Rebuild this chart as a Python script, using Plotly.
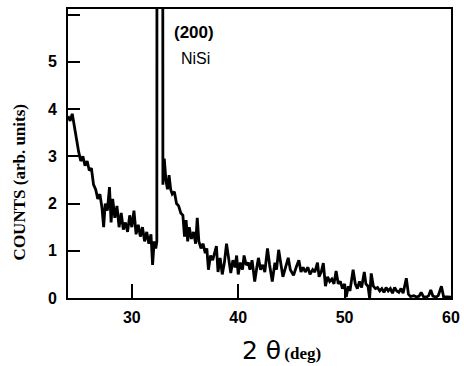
import plotly.graph_objects as go

# 2-theta (deg)
two_theta = [24.0, 24.2, 24.4, 24.6, 24.8, 25.0, 25.2, 25.4, 25.6, 25.8, 26.0, 26.2, 26.4, 26.6, 26.8,
             27.0, 27.2, 27.35, 27.5, 27.7, 27.9, 28.05, 28.2, 28.4, 28.6, 28.8, 29.0, 29.2, 29.4, 29.6,
             29.8, 30.0, 30.2, 30.4, 30.6, 30.8, 31.0, 31.2, 31.4, 31.6, 31.8, 31.95, 32.1, 32.25, 32.35,
             32.4, 32.85, 32.92, 33.05, 33.2, 33.35, 33.5, 33.65, 33.8, 34.0, 34.2, 34.4, 34.6, 34.8,
             34.95, 35.1, 35.25, 35.4, 35.6, 35.8, 36.0, 36.15, 36.3, 36.5, 36.7, 36.9, 37.05, 37.2, 37.4,
             37.6, 37.8, 37.95, 38.1, 38.3, 38.5, 38.7, 38.9, 39.1, 39.3, 39.5, 39.7, 39.85, 40.0, 40.2,
             40.4, 40.55, 40.75, 40.95, 41.1, 41.3, 41.55, 41.75, 41.9, 42.1, 42.3, 42.5, 42.75, 42.95,
             43.2, 43.45, 43.6, 43.8, 44.0, 44.2, 44.45, 44.7, 44.9, 45.2, 45.45, 45.7, 45.9, 46.1, 46.3,
             46.55, 46.75, 47.0, 47.2, 47.45, 47.6, 47.8, 48.0, 48.2, 48.4, 48.6, 48.8, 49.0, 49.2, 49.4,
             49.6, 49.8, 50.0, 50.15, 50.35, 50.5, 50.8, 51.0, 51.2, 51.4, 51.6, 51.85, 52.0, 52.2, 52.35,
             52.5, 52.7, 52.9, 53.1, 53.3, 53.5, 53.7, 53.9, 54.1, 54.3, 54.5, 54.7, 54.9, 55.1, 55.3,
             55.5, 55.8, 56.0, 56.2, 56.5, 56.8, 57.0, 57.2, 57.4, 57.7, 57.9, 58.1, 58.3, 58.6, 58.8,
             59.1, 59.3, 59.6, 60.0]

# counts (arb. units)
counts = [3.85, 3.75, 3.9, 3.6, 3.3, 3.1, 2.9, 3.0, 2.8, 2.9, 2.7, 2.75, 2.4, 2.3, 2.1,
          2.2, 1.9, 1.5, 2.0, 1.85, 2.35, 1.6, 2.1, 1.7, 1.95, 1.5, 1.8, 1.45, 1.6, 1.4,
          1.75, 1.5, 1.85, 1.35, 1.55, 1.3, 1.5, 1.2, 1.4, 1.15, 1.35, 0.7, 1.2, 1.05, 1.2,
          30.0, 30.0, 2.4, 2.95, 2.5, 2.3, 2.6, 2.3, 2.2, 2.25, 2.0, 1.95, 1.8, 1.75,
          1.3, 1.65, 1.2, 1.5, 1.25, 1.4, 1.15, 1.7, 1.2, 1.05, 1.15, 0.95, 1.05, 0.6, 0.9,
          0.8, 0.95, 1.1, 0.55, 0.85, 0.5, 0.75, 1.15, 0.8, 0.53, 0.8, 0.65, 0.9, 0.5, 0.75,
          0.6, 0.9, 0.7, 0.75, 0.6, 0.8, 0.35, 0.65, 0.85, 0.6, 0.7, 0.55, 1.05, 0.7,
          0.35, 0.75, 0.6, 1.02, 0.7, 0.45, 0.65, 0.85, 0.6, 0.48, 0.65, 0.8, 0.55, 0.65, 0.55,
          0.65, 0.5, 0.6, 0.55, 0.75, 0.45, 0.55, 0.74, 0.25, 0.45, 0.35, 0.4, 0.3, 0.57, 0.3,
          0.35, 0.2, 0.3, 0.02, 0.25, 0.15, 0.6, 0.3, 0.2, 0.35, 0.22, 0.55, 0.3, 0.25, 0.0,
          0.52, 0.25, 0.2, 0.22, 0.15, 0.2, 0.12, 0.22, 0.15, 0.2, 0.1, 0.22, 0.15, 0.12, 0.2,
          0.1, 0.42, 0.08, 0.03, 0.05, 0.02, 0.04, 0.12, 0.03, 0.02, 0.05, 0.17, 0.04, 0.02, 0.05,
          0.25, 0.03, 0.02, 0.02]

x_tick_vals = [30, 40, 50, 60]
x_tick_text = ["30", "40", "50", "60"]
y_tick_vals = [0, 1, 2, 3, 4, 5, 6]
y_tick_text = ["0", "1", "2", "3", "4", "5", ""]

fig = go.Figure()
fig.add_trace(go.Scatter(x=two_theta, y=counts, mode="lines",
                         line=dict(color="black", width=2.8), showlegend=False))

axis_common = dict(showline=True, linecolor="black", linewidth=2, mirror=True,
                   ticks="inside", tickcolor="black", tickwidth=1.5,
                   showgrid=False, zeroline=False, automargin=False,
                   tickfont=dict(family="Liberation Sans", size=16, color="black", weight="bold"))

fig.update_xaxes(range=[24, 60], tickvals=x_tick_vals, ticktext=x_tick_text, ticklen=14,
                 ticklabelstandoff=4, **axis_common)
fig.update_yaxes(range=[0, 6.12], tickvals=y_tick_vals, ticktext=y_tick_text, ticklen=12,
                 ticklabelstandoff=6, **axis_common)

ann = dict(xref="paper", yref="paper", showarrow=False, xanchor="center", yanchor="middle")

fig.add_annotation(x=0.329, y=0.917, text="(200)",
                   font=dict(family="Liberation Sans", size=17, color="black", weight="bold"), **ann)
fig.add_annotation(x=0.334, y=0.827, text="NiSi",
                   font=dict(family="Liberation Sans", size=16, color="black"), **ann)

fig.add_annotation(x=0.557, y=-0.18,
                   text="<span style='font-family:DejaVu Sans;font-size:25px;color:black'>2 θ</span>"
                        " <span style='font-family:Liberation Serif;font-size:17px;font-weight:bold;color:black'>(deg)</span>",
                   font=dict(color="black"), **ann)
fig.add_annotation(x=-0.128, y=0.40, textangle=-90, text="COUNTS (arb. units)",
                   font=dict(family="Liberation Serif", size=17, color="black", weight="bold"), **ann)

fig.update_layout(width=464, height=366, margin=dict(l=68, r=13, t=9, b=68),
                  plot_bgcolor="white", paper_bgcolor="white")

# remove the page's default body margin so the 464x366 figure fills the window exactly
fig.write_html("out.html", config={"displayModeBar": False},
               post_script="document.body.style.margin='0';document.body.style.overflow='hidden';")
